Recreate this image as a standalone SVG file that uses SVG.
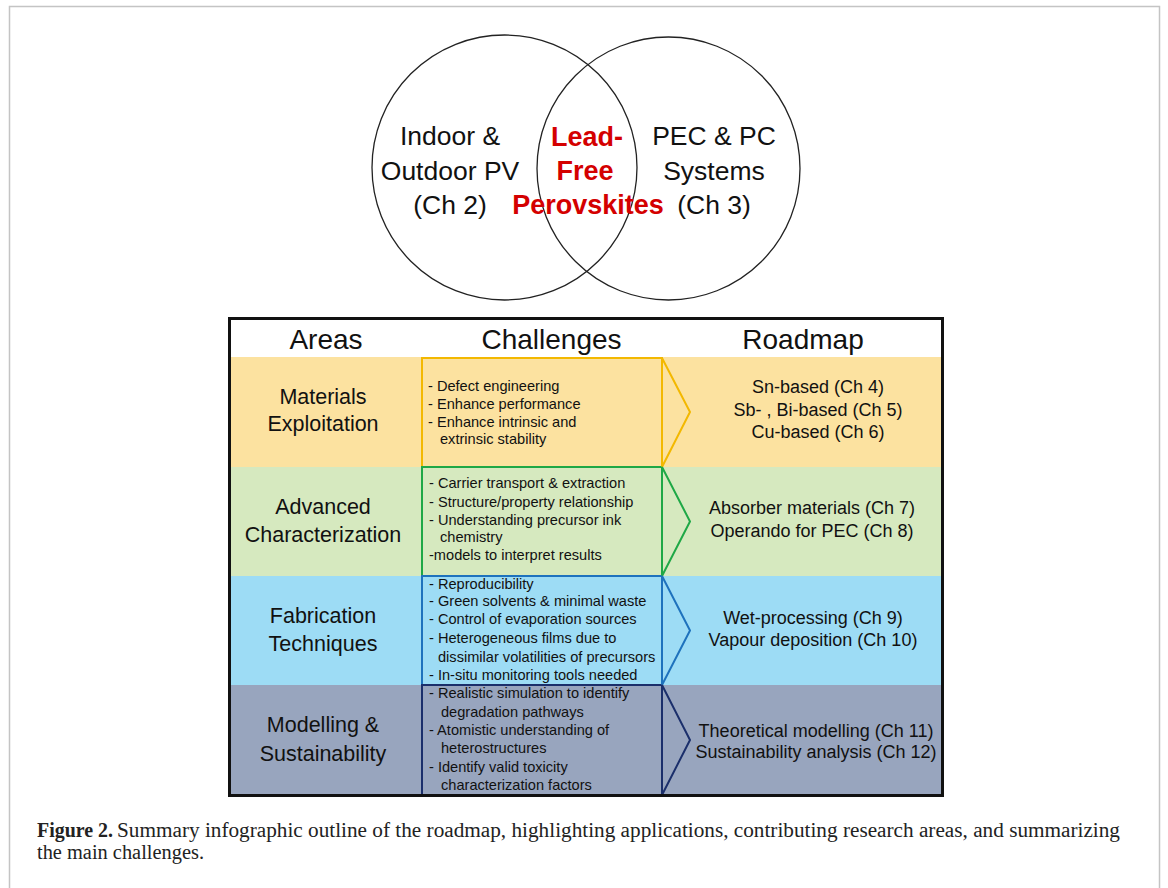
<svg xmlns="http://www.w3.org/2000/svg" width="1168" height="888" viewBox="0 0 1168 888">
<style>
.venn{fill:none;stroke:#222;stroke-width:1.3}
.vt{font-family:"Liberation Sans",Arial,sans-serif;font-size:26.5px;fill:#111;text-anchor:middle}
.vr{font-family:"Liberation Sans",Arial,sans-serif;font-size:27px;font-weight:bold;fill:#d40000;text-anchor:middle}
.hd{font-family:"Liberation Sans",Arial,sans-serif;font-size:28px;fill:#111;text-anchor:middle}
.ar{font-family:"Liberation Sans",Arial,sans-serif;font-size:21.5px;fill:#111;text-anchor:middle}
.ch{font-family:"Liberation Sans",Arial,sans-serif;font-size:14.6px;fill:#111}
.rm{font-family:"Liberation Sans",Arial,sans-serif;font-size:18px;fill:#111;text-anchor:middle}
.cap{font-family:"Liberation Serif","Times New Roman",serif;font-size:20.5px;fill:#222}
.box{stroke-width:2}
.chev{fill:none;stroke-width:2;stroke-linejoin:miter}
</style>
<rect x="0" y="0" width="1168" height="888" fill="#fff"/>
<rect x="9.5" y="6.5" width="1150" height="900" fill="none" stroke="#c4c4c4" stroke-width="1.5"/>

<g id="venn-left">
<circle class="venn" cx="504.5" cy="167.5" r="132.5"/>
<text class="vt" x="450" y="145">Indoor &amp;</text>
<text class="vt" x="450" y="180">Outdoor PV</text>
<text class="vt" x="450" y="214">(Ch 2)</text>
</g>
<g id="venn-right">
<circle class="venn" cx="668.5" cy="168.5" r="131.5"/>
<text class="vt" x="714" y="145">PEC &amp; PC</text>
<text class="vt" x="714" y="180">Systems</text>
<text class="vt" x="714" y="214">(Ch 3)</text>
</g>
<g id="venn-center">
<text class="vr" x="587" y="146">Lead-</text>
<text class="vr" x="585" y="180">Free</text>
<text class="vr" x="588" y="214">Perovskites</text>
</g>

<g id="table">
<rect x="229" y="318" width="714" height="39" fill="#fff"/>
<rect x="229" y="357" width="714" height="110" fill="#fce2a0"/>
<rect x="229" y="467" width="714" height="109" fill="#d6e9bf"/>
<rect x="229" y="576" width="714" height="109" fill="#9ddcf5"/>
<rect x="229" y="685" width="714" height="111" fill="#98a5be"/>
<text class="hd" x="326" y="349">Areas</text>
<text class="hd" x="551.5" y="349">Challenges</text>
<text class="hd" x="803" y="349">Roadmap</text>
</g>

<g id="row-materials">
<rect class="box" x="422" y="358" width="240" height="109" fill="none" stroke="#f3b800"/>
<text class="ar" x="323" y="404">Materials</text>
<text class="ar" x="323" y="431">Exploitation</text>
<text class="ch" x="428" y="391">- Defect engineering</text>
<text class="ch" x="428" y="409">- Enhance performance</text>
<text class="ch" x="428" y="427">- Enhance intrinsic and</text>
<text class="ch" x="440" y="444">extrinsic stability</text>
<text class="rm" x="818" y="393">Sn-based (Ch 4)</text>
<text class="rm" x="818" y="416">Sb- , Bi-based (Ch 5)</text>
<text class="rm" x="818" y="438">Cu-based (Ch 6)</text>
</g>
<g id="row-characterization">
<rect class="box" x="422" y="467" width="240" height="109" fill="none" stroke="#1fa846"/>
<text class="ar" x="323" y="514">Advanced</text>
<text class="ar" x="323" y="542">Characterization</text>
<text class="ch" x="429" y="488">- Carrier transport &amp; extraction</text>
<text class="ch" x="429" y="507">- Structure/property relationship</text>
<text class="ch" x="429" y="525">- Understanding precursor ink</text>
<text class="ch" x="440" y="542">chemistry</text>
<text class="ch" x="429" y="560">-models to interpret results</text>
<text class="rm" x="812" y="514">Absorber materials (Ch 7)</text>
<text class="rm" x="812" y="537">Operando for PEC (Ch 8)</text>
</g>
<g id="row-fabrication">
<rect class="box" x="422" y="576" width="240" height="109" fill="none" stroke="#1e72bd"/>
<text class="ar" x="323" y="623">Fabrication</text>
<text class="ar" x="323" y="651">Techniques</text>
<text class="ch" x="429" y="589">- Reproducibility</text>
<text class="ch" x="429" y="606">- Green solvents &amp; minimal waste</text>
<text class="ch" x="429" y="624">- Control of evaporation sources</text>
<text class="ch" x="429" y="643">- Heterogeneous films due to</text>
<text class="ch" x="438" y="662">dissimilar volatilities of precursors</text>
<text class="ch" x="429" y="680">- In-situ monitoring tools needed</text>
<text class="rm" x="813" y="624">Wet-processing (Ch 9)</text>
<text class="rm" x="813" y="646">Vapour deposition (Ch 10)</text>
</g>
<g id="row-modelling">
<rect class="box" x="422" y="685" width="240" height="110" fill="none" stroke="#1b2f6b"/>
<text class="ar" x="323" y="732">Modelling &amp;</text>
<text class="ar" x="323" y="761">Sustainability</text>
<text class="ch" x="429" y="698">- Realistic simulation to identify</text>
<text class="ch" x="441" y="717">degradation pathways</text>
<text class="ch" x="429" y="735">- Atomistic understanding of</text>
<text class="ch" x="441" y="753">heterostructures</text>
<text class="ch" x="429" y="772">- Identify valid toxicity</text>
<text class="ch" x="441" y="790">characterization factors</text>
<text class="rm" x="816" y="737">Theoretical modelling (Ch 11)</text>
<text class="rm" x="816" y="758">Sustainability analysis (Ch 12)</text>
</g>

<g id="connectors">
<polyline class="chev" points="662,358 690,412 662,467" stroke="#f3b800"/>
<polyline class="chev" points="662,467 690,521.5 662,576" stroke="#1fa846"/>
<polyline class="chev" points="662,576 690,630.5 662,685" stroke="#1e72bd"/>
<polyline class="chev" points="662,685 690,740 662,795" stroke="#1b2f6b"/>
</g>

<rect x="229.5" y="318.5" width="713" height="477" fill="none" stroke="#111" stroke-width="3"/>

<g id="caption">
<text class="cap" x="37" y="837" font-weight="bold" textLength="76" lengthAdjust="spacingAndGlyphs">Figure 2.</text>
<text class="cap" x="117" y="837" textLength="1003" lengthAdjust="spacingAndGlyphs">Summary infographic outline of the roadmap, highlighting applications, contributing research areas, and summarizing</text>
<text class="cap" x="37" y="859" textLength="167" lengthAdjust="spacingAndGlyphs">the main challenges.</text>
</g>
</svg>
